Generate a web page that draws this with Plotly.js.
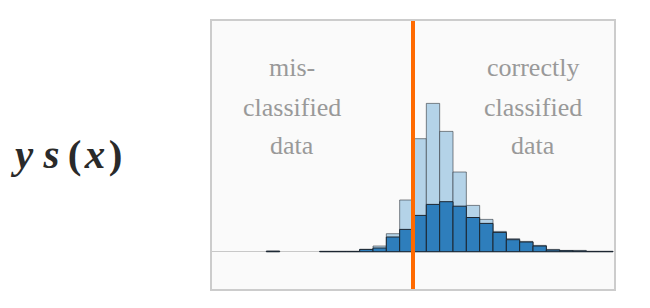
<!DOCTYPE html>
<html>
<head>
<meta charset="utf-8">
<script src="https://cdn.plot.ly/plotly-3.0.1.min.js"></script>
<style>
  html, body { margin: 0; padding: 0; background: #ffffff; }
  #chart { width: 650px; height: 308px; }
</style>
</head>
<body>
<div id="chart"></div>
<script>
// bin centres of the margin histogram (bin width 0.2), decision boundary at 0
const binCenters = [-2.9, -2.7, -2.5, -2.3, -2.1, -1.9, -1.7, -1.5, -1.3, -1.1,
                    -0.9, -0.7, -0.5, -0.3, -0.1, 0.1, 0.3, 0.5, 0.7, 0.9,
                    1.1, 1.3, 1.5, 1.7, 1.9, 2.1, 2.3, 2.5, 2.7, 2.9];
// light (overall) histogram heights; null = empty bin
const lightCounts = [null, null, null, null, 0.5, null, null, null, 0.3, 0.3,
                     0.3, 2.3, 5.7, 18, 51.7, 113, 148.3, 120.3, 79.7, 46.3,
                     32.3, 20.3, 13, 10.3, 6.3, 2.3, 1.3, 1.3, 0.3, 0.3];
// dark histogram heights; null = empty bin
const darkCounts = [null, null, null, null, 0.5, null, null, null, 0.3, 0.3,
                    0.3, 2.3, 3.7, 14.7, 22.3, 36.3, 47.3, 50, 45.5, 34.2,
                    28.3, 19.3, 12, 9.7, 5.7, 1.7, 1, 0.7, 0.3, 0.3];
const binWidth = 0.2;
const boundary = 0;

const leftLines = ["mis-", "classified", "data"];
const rightLines = ["correctly", "classified", "data"];
const lineY = [0.825, 0.679, 0.534];

const traces = [
  {
    type: 'bar', x: binCenters, y: lightCounts, width: binWidth,
    marker: { color: '#b4d3e8', line: { color: 'rgba(50,55,60,0.6)', width: 1 } },
    hoverinfo: 'skip'
  },
  {
    type: 'bar', x: binCenters, y: darkCounts, width: binWidth,
    marker: { color: '#2e7ebc', line: { color: '#1c2630', width: 1 } },
    hoverinfo: 'skip'
  }
];

const annotations = [];
leftLines.forEach((t, i) => annotations.push({
  text: t, xref: 'x', yref: 'paper', x: -1.82, y: lineY[i],
  showarrow: false, xanchor: 'center', yanchor: 'middle',
  font: { family: 'Liberation Serif, Times New Roman, serif', size: 26, color: '#999999' }
}));
rightLines.forEach((t, i) => annotations.push({
  text: t, xref: 'x', yref: 'paper', x: 1.795, y: lineY[i],
  showarrow: false, xanchor: 'center', yanchor: 'middle',
  font: { family: 'Liberation Serif, Times New Roman, serif', size: 26, color: '#999999' }
}));
annotations.push({
  text: '<b><i>y</i>&nbsp;<i>s</i>&#8201;(&#8202;<i>x</i>&#8202;)</b>',
  xref: 'paper', yref: 'paper', x: -0.363, y: 0.505,
  showarrow: false, xanchor: 'center', yanchor: 'middle',
  font: { family: 'Liberation Serif, Times New Roman, serif', size: 41, color: '#2a2a2a' }
});

const layout = {
  width: 650, height: 308,
  margin: { l: 212, r: 36, t: 21, b: 19, pad: 0 },
  paper_bgcolor: '#ffffff',
  plot_bgcolor: '#fafafa',
  barmode: 'overlay',
  bargap: 0,
  showlegend: false,
  xaxis: {
    range: [-3.015, 3.015], showticklabels: false, ticks: '', showgrid: false,
    zeroline: false, showline: true, mirror: true, linecolor: '#cccccc', linewidth: 2,
    fixedrange: true
  },
  yaxis: {
    range: [-37.3, 230.7], showticklabels: false, ticks: '', showgrid: false,
    zeroline: true, zerolinecolor: '#c8c8c8', zerolinewidth: 1.5,
    showline: true, mirror: true, linecolor: '#cccccc', linewidth: 2,
    fixedrange: true
  },
  shapes: [{
    type: 'line', xref: 'x', yref: 'paper', x0: boundary, x1: boundary, y0: 0, y1: 1,
    line: { color: '#ff6a00', width: 4 }, layer: 'above'
  }],
  annotations: annotations
};

Plotly.newPlot('chart', traces, layout, { displayModeBar: false, staticPlot: true });
</script>
</body>
</html>
